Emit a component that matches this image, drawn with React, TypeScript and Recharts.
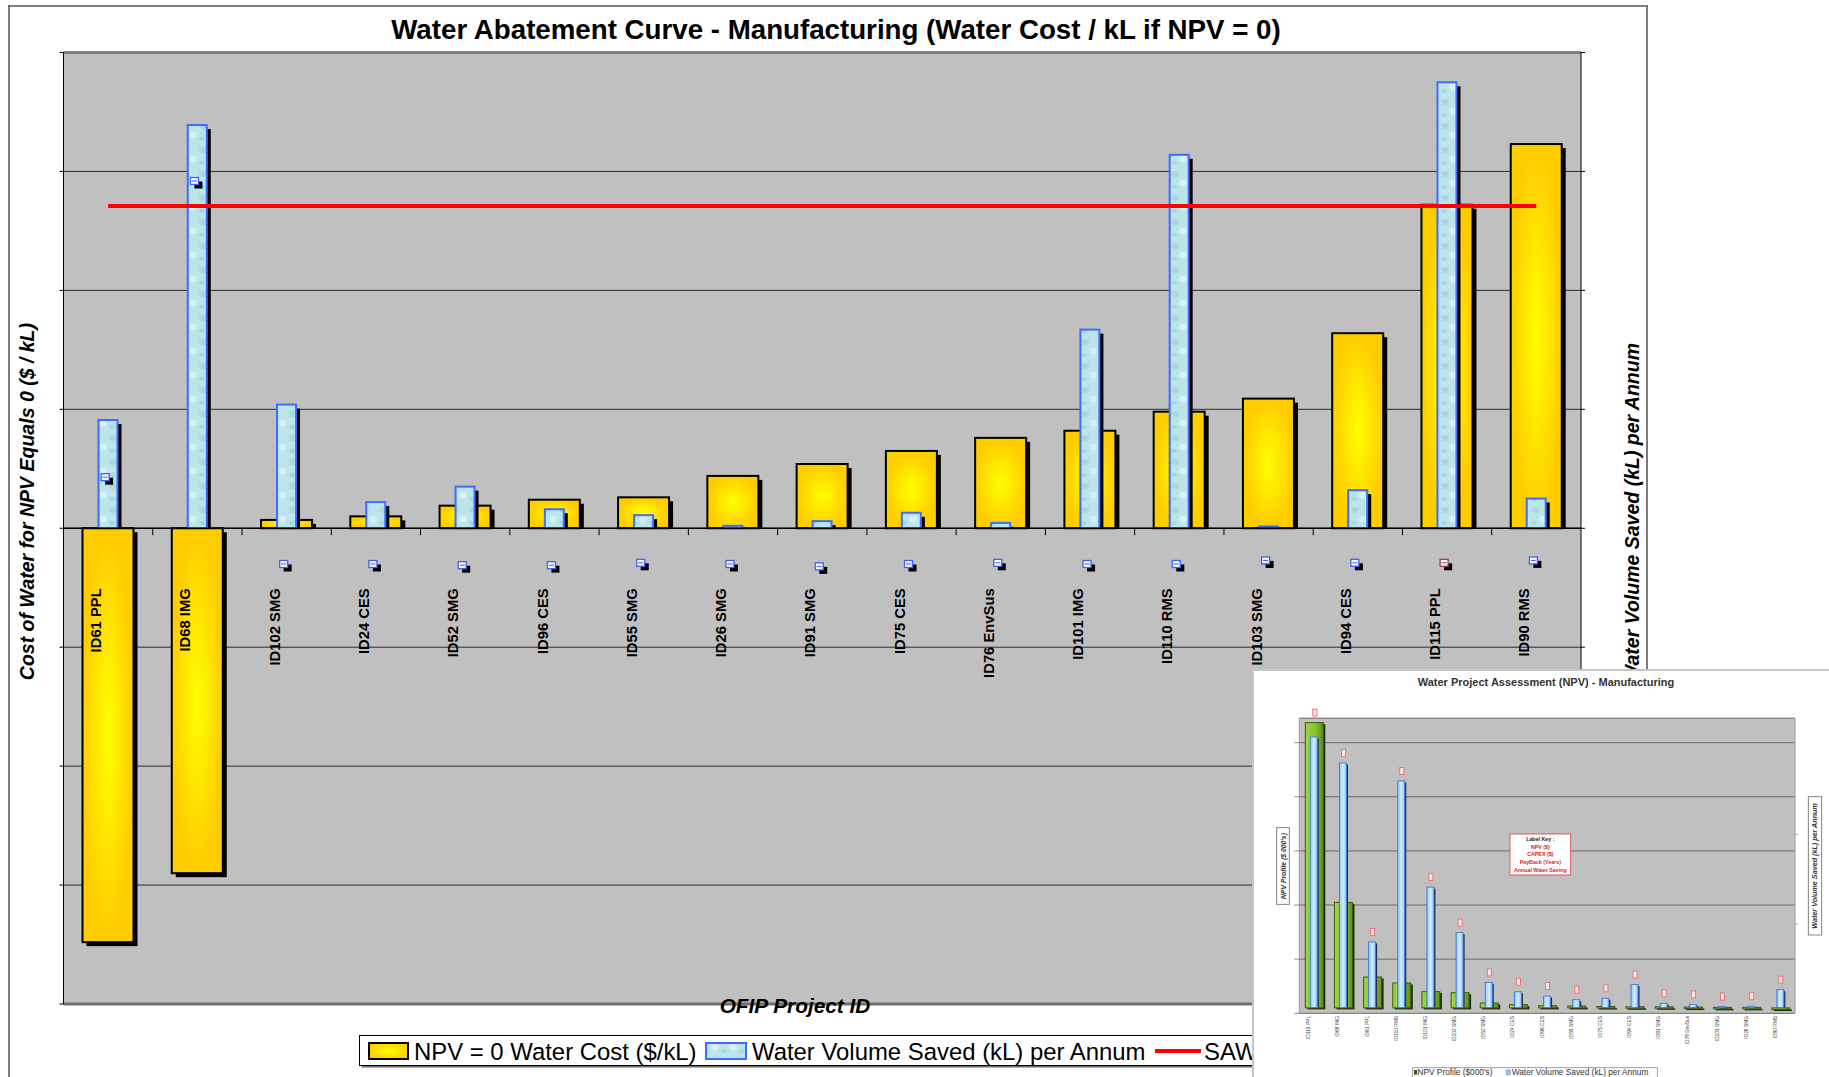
import React from 'react';
import { ComposedChart, Bar, Line, Scatter, XAxis, YAxis, CartesianGrid, ReferenceLine } from 'recharts';

const FONT = '"Liberation Sans", Arial, Helvetica, sans-serif';

// ---------- Main chart data ----------
const projectIds = [
  'ID61 PPL', 'ID68 IMG', 'ID102 SMG', 'ID24 CES', 'ID52 SMG', 'ID96 CES', 'ID55 SMG', 'ID26 SMG', 'ID91 SMG',
  'ID75 CES', 'ID76 EnvSus', 'ID101 IMG', 'ID110 RMS', 'ID103 SMG', 'ID94 CES', 'ID115 PPL', 'ID90 RMS',
];
const npvZeroWaterCost = [-3.48, -2.9, 0.07, 0.1, 0.19, 0.24, 0.26, 0.44, 0.54, 0.65, 0.76, 0.82, 0.98, 1.09, 1.64, 2.72, 3.23];
const waterVolumeSaved = [0.91, 3.39, 1.04, 0.22, 0.35, 0.16, 0.11, 0.02, 0.06, 0.13, 0.045, 1.67, 3.14, 0.015, 0.32, 3.75, 0.25];
const sawWaterPrice = 2.71;
const labelMarkerLevel = [0.4, 2.89, -0.33, -0.33, -0.34, -0.34, -0.32, -0.33, -0.35, -0.33, -0.32, -0.33, -0.33, -0.3, -0.32, -0.32, -0.3];
const leftTicks = [-4, -3, -2, -1, 0, 1, 2, 3, 4];

// ---------- Inset chart data ----------
const insetProjectIds = [
  'ID115 PPL', 'ID68 IMG', 'ID61 PPL', 'ID110 RMS', 'ID101 IMG', 'ID102 SMG', 'ID52 SMG', 'ID24 CES', 'ID96 CES',
  'ID55 SMG', 'ID75 CES', 'ID94 CES', 'ID91 SMG', 'ID76 EnvSus', 'ID103 SMG', 'ID26 SMG', 'ID90 RMS',
];
const insetNpvProfile = [5.27, 1.95, 0.57, 0.46, 0.3, 0.28, 0.09, 0.06, 0.04, 0.035, 0.025, 0.02, 0.02, 0.015, 0.01, 0.01, -0.03];
const insetWaterVolume = [3.75, 3.39, 0.91, 3.14, 1.67, 1.04, 0.35, 0.22, 0.16, 0.11, 0.13, 0.32, 0.06, 0.045, 0.015, 0.02, 0.25];
const insetLabelAbove = ['npv', 'vol', 'vol', 'vol', 'vol', 'vol', 'vol', 'vol', 'vol', 'vol', 'vol', 'vol', 'vol', 'vol', 'vol', 'vol', 'vol'];
const insetLeftTicks = [-0.1, 0.9, 1.9, 2.9, 3.9, 4.9];
const insetRightTicks = [1.16, 2.4];

const norm = (p: any) => {
  const top = Math.min(p.y, p.y + p.height);
  const h = Math.abs(p.height);
  return { top, h };
};

const GoldBar = (p: any) => {
  const { x, width } = p;
  const { top, h } = norm(p);
  const neg = (p.payload?.cost ?? 0) < 0;
  const sh = neg ? h : h - 4;
  return (
    <g>
      {sh > 0 && <rect x={x + 4} y={top + 4} width={width} height={sh} fill="#000" />}
      <rect x={x} y={top} width={width} height={h} fill="url(#goldFill)" stroke="#000" strokeWidth={2} />
    </g>
  );
};

const WaterBar = (p: any) => {
  const { x, width } = p;
  const { top, h } = norm(p);
  const sh = h - 4;
  return (
    <g>
      {sh > 0 && <rect x={x + 4} y={top + 4} width={width} height={sh} fill="#000" />}
      <rect x={x} y={top} width={width} height={Math.max(h, 1)} fill="url(#waterTex)" stroke="#3D6CFF" strokeWidth={2} />
    </g>
  );
};

const CategoryLabel = (p: any) => {
  const { x, y, width, index, payload } = p;
  const cx = x + width / 2;
  const tx = cx - 11.8;
  const ty = y + 60;
  return (
    <g>
      {index > 0 && <line x1={x} x2={x} y1={y} y2={y + 7} stroke="#000" strokeWidth={1} />}
      <text
        x={tx}
        y={ty}
        transform={`rotate(-90 ${tx} ${ty})`}
        textAnchor="end"
        dominantBaseline="central"
        fontFamily={FONT}
        fontWeight="bold"
        fontSize={14.8}
        fill="#000"
      >
        {payload?.name}
      </text>
    </g>
  );
};

const LabelMarker = (p: any) => {
  const { cx, cy, payload } = p;
  const tint = payload?.name === 'ID115 PPL' ? '#A0405E' : '#3F62F0';
  return (
    <g>
      <rect x={cx - 3} y={cy - 3} width={8} height={7} fill="#000" />
      <rect x={cx - 7} y={cy - 7} width={8} height={7} fill="#F4F7FF" stroke={tint} strokeWidth={1.3} />
      <line x1={cx - 5.5} x2={cx - 0.5} y1={cy - 3.5} y2={cy - 3.5} stroke={tint} strokeWidth={1} />
    </g>
  );
};

const InsetMark = ({ cx, top }: { cx: number; top: number }) => (
  <rect x={cx - 1.5} y={top - 13.5} width={4} height={7} fill="#FFE6E6" stroke="#EE6A6A" strokeWidth={0.9} />
);

const GreenBar = (p: any) => {
  const { x, width } = p;
  const { top, h } = norm(p);
  const hh = Math.max(h, 1.5);
  return (
    <g>
      <rect x={x + 2} y={top + 1.5} width={width} height={hh} fill="#1c2a08" />
      <rect x={x} y={top} width={width} height={hh} fill="url(#greenFill)" stroke="#3e5a12" strokeWidth={1} />
      {p.payload?.markOn === 'npv' && <InsetMark cx={x + width / 2} top={top} />}
    </g>
  );
};

const InsetBlueBar = (p: any) => {
  const { x, width } = p;
  const { top, h } = norm(p);
  const hh = Math.max(h, 1);
  return (
    <g>
      <rect x={x + 1.5} y={top + 1.5} width={width} height={Math.max(hh - 1.5, 0.5)} fill="#1b2a55" />
      <rect x={x} y={top} width={width} height={hh} fill="url(#insetBlue)" stroke="#3b79d6" strokeWidth={0.9} />
      {p.payload?.markOn === 'vol' && <InsetMark cx={x + width / 2} top={top} />}
    </g>
  );
};

const InsetLabel = (p: any) => {
  const { x, y, width, payload } = p;
  const tx = x + width / 2 - 5;
  const ty = y + 8;
  return (
    <text
      x={tx}
      y={ty}
      transform={`rotate(-90 ${tx} ${ty})`}
      textAnchor="end"
      dominantBaseline="central"
      fontFamily={FONT}
      fontSize={4.9}
      fill="#3a3a3a"
    >
      {payload?.name}
    </text>
  );
};

const blank = () => '';

export default function App() {
  const mainData = projectIds.map((name, i) => ({
    name,
    cost: npvZeroWaterCost[i],
    volume: waterVolumeSaved[i],
    saw: sawWaterPrice,
    marker: labelMarkerLevel[i],
    base: 0,
  }));
  const insetData = insetProjectIds.map((name, i) => ({
    name,
    npv: insetNpvProfile[i],
    vol: insetWaterVolume[i],
    markOn: insetLabelAbove[i],
    base: 0,
  }));

  return (
    <div style={{ position: 'absolute', left: 0, top: 0, width: 1829, height: 1077, overflow: 'hidden', background: '#fff', fontFamily: FONT }}>
      {/* frame + shared defs */}
      <svg width={1829} height={1077} style={{ position: 'absolute', left: 0, top: 0 }}>
        <defs>
          <radialGradient id="goldFill" cx="50%" cy="50%" r="50%">
            <stop offset="0%" stopColor="#FFFF00" />
            <stop offset="100%" stopColor="#FFCC00" />
          </radialGradient>
          <radialGradient id="goldLegend" cx="50%" cy="50%" r="55%">
            <stop offset="0%" stopColor="#FFFF00" />
            <stop offset="100%" stopColor="#FFCC00" />
          </radialGradient>
          <pattern id="waterTex" patternUnits="userSpaceOnUse" width="18" height="24">
            <rect width="18" height="24" fill="#BCE4EB" />
            <ellipse cx="5" cy="6" rx="4" ry="3" fill="#A6D3DD" opacity="0.8" />
            <ellipse cx="13" cy="15" rx="4" ry="3.5" fill="#D6F1F5" />
            <ellipse cx="4" cy="19" rx="3" ry="2" fill="#9FCDD8" opacity="0.6" />
          </pattern>
          <linearGradient id="greenFill" x1="0" y1="0" x2="1" y2="0">
            <stop offset="0%" stopColor="#A2D445" />
            <stop offset="55%" stopColor="#86C232" />
            <stop offset="100%" stopColor="#5E8E18" />
          </linearGradient>
          <linearGradient id="insetBlue" x1="0" y1="0" x2="1" y2="0">
            <stop offset="0%" stopColor="#8EC5F0" />
            <stop offset="50%" stopColor="#D3EDFC" />
            <stop offset="100%" stopColor="#8EC5F0" />
          </linearGradient>
        </defs>
        <line x1={9} x2={1647} y1={6} y2={6} stroke="#808080" strokeWidth={2} />
        <line x1={9} x2={9} y1={5} y2={1077} stroke="#222" strokeWidth={1.2} />
        <line x1={1647} x2={1647} y1={5} y2={1077} stroke="#7a7a7a" strokeWidth={2} />
      </svg>

      <div style={{ position: 'absolute', left: 0, top: 0 }}>
        <ComposedChart
          width={1829}
          height={1077}
          data={mainData}
          margin={{ top: 52.5, right: 244, bottom: 73, left: 59.5 }}
          barCategoryGap={0}
          barGap={0}
        >
          <CartesianGrid xAxisId="main" yAxisId="left" vertical={false} stroke="#2b2b2b" strokeWidth={1} fill="#C0C0C0" fillOpacity={1} />
          <XAxis xAxisId="main" dataKey="name" hide />
          <XAxis xAxisId="vol" dataKey="name" hide />
          <XAxis xAxisId="lab" dataKey="name" hide />
          <YAxis
            yAxisId="left"
            domain={[-4, 4]}
            ticks={leftTicks}
            width={4}
            tickSize={4}
            tickFormatter={blank}
            axisLine={{ stroke: '#000' }}
            tickLine={{ stroke: '#000' }}
          />
          <YAxis
            yAxisId="right"
            orientation="right"
            domain={[-4, 4]}
            ticks={leftTicks}
            width={4}
            tickSize={4}
            tickFormatter={blank}
            axisLine={{ stroke: '#000' }}
            tickLine={{ stroke: '#000' }}
          />
          <ReferenceLine xAxisId="main" yAxisId="left" y={0} stroke="#000" strokeWidth={1.5} />
          <Bar xAxisId="main" yAxisId="left" dataKey="cost" barSize={51} shape={GoldBar} isAnimationActive={false} />
          <Bar xAxisId="vol" yAxisId="right" dataKey="volume" barSize={19} shape={WaterBar} isAnimationActive={false} />
          <Bar xAxisId="lab" yAxisId="left" dataKey="base" shape={CategoryLabel} isAnimationActive={false} />
          <Line xAxisId="main" yAxisId="left" dataKey="saw" stroke="#FF0000" strokeWidth={4} dot={false} activeDot={false} isAnimationActive={false} />
          <Scatter xAxisId="main" yAxisId="left" dataKey="marker" shape={LabelMarker} isAnimationActive={false} />
          <ReferenceLine xAxisId="main" yAxisId="left" y={4} stroke="#7f7f7f" strokeWidth={3} />
          <ReferenceLine xAxisId="main" yAxisId="left" y={-4} stroke="#6f6f6f" strokeWidth={3} />
        </ComposedChart>
      </div>

      {/* main titles & legend */}
      <svg width={1829} height={1077} style={{ position: 'absolute', left: 0, top: 0, pointerEvents: 'none' }}>
        <text x={836} y={29.5} textAnchor="middle" dominantBaseline="central" fontFamily={FONT} fontWeight="bold" fontSize={27.7} fill="#000">
          Water Abatement Curve - Manufacturing (Water Cost / kL if NPV = 0)
        </text>
        <text x={27} y={323} transform="rotate(-90 27 323)" textAnchor="end" dominantBaseline="central" fontFamily={FONT} fontWeight="bold" fontStyle="italic" fontSize={19.5} fill="#000">
          Cost of Water for NPV Equals 0 ($ / kL)
        </text>
        <text x={1632} y={343} transform="rotate(-90 1632 343)" textAnchor="end" dominantBaseline="central" fontFamily={FONT} fontWeight="bold" fontStyle="italic" fontSize={19.5} fill="#000">
          Water Volume Saved (kL) per Annum
        </text>
        <text x={795} y={1005} textAnchor="middle" dominantBaseline="central" fontFamily={FONT} fontWeight="bold" fontStyle="italic" fontSize={20.8} fill="#000">
          OFIP Project ID
        </text>
        <rect x={361.5} y={1037.5} width={960} height={30} fill="#6a6a6a" />
        <rect x={359.5} y={1035.5} width={960} height={30} fill="#fff" stroke="#000" strokeWidth={1} />
        <rect x={369} y={1043} width={39} height={16} fill="url(#goldLegend)" stroke="#000" strokeWidth={2} />
        <text x={414} y={1051} dominantBaseline="central" fontFamily={FONT} fontSize={23.9} fill="#000">NPV = 0 Water Cost ($/kL)</text>
        <rect x={706} y={1043} width={40} height={16} fill="url(#waterTex)" stroke="#3D6CFF" strokeWidth={2} />
        <text x={752} y={1051} dominantBaseline="central" fontFamily={FONT} fontSize={23.9} fill="#000">Water Volume Saved (kL) per Annum</text>
        <line x1={1155} x2={1201} y1={1051} y2={1051} stroke="#FF0000" strokeWidth={4} />
        <text x={1204} y={1051} dominantBaseline="central" fontFamily={FONT} fontSize={23.9} fill="#000">SAW</text>
      </svg>

      {/* inset chart */}
      <div
        style={{
          position: 'absolute',
          left: 1252,
          top: 669,
          width: 575,
          height: 406,
          background: '#fff',
          borderLeft: '2px solid #C6C6C6',
          borderTop: '2px solid #C6C6C6',
        }}
      >
        <div style={{ position: 'absolute', left: 0, top: 0 }}>
          <ComposedChart
            width={575}
            height={406}
            data={insetData}
            margin={{ top: 47.3, right: 30, bottom: 63.7, left: 41.3 }}
            barCategoryGap={0}
            barGap={0}
          >
            <CartesianGrid xAxisId="m" yAxisId="l" vertical={false} stroke="#6b6b6b" strokeWidth={1} fill="#C0C0C0" fillOpacity={1} />
            <XAxis xAxisId="m" dataKey="name" hide />
            <XAxis xAxisId="b" dataKey="name" hide />
            <XAxis xAxisId="lab" dataKey="name" hide />
            <YAxis
              yAxisId="l"
              domain={[-0.1, 5.35]}
              ticks={insetLeftTicks}
              width={4}
              tickSize={5}
              tickFormatter={blank}
              axisLine={{ stroke: '#9a9a9a' }}
              tickLine={{ stroke: '#8a8a8a' }}
            />
            <YAxis
              yAxisId="r"
              orientation="right"
              domain={[-0.078, 4.008]}
              allowDataOverflow
              ticks={insetRightTicks}
              width={4}
              tickSize={3}
              tickFormatter={blank}
              axisLine={{ stroke: '#9a9a9a' }}
              tickLine={{ stroke: '#aaaaaa' }}
            />
            <ReferenceLine xAxisId="m" yAxisId="l" y={5.35} stroke="#8a8a8a" strokeWidth={1.2} />
            <Bar xAxisId="m" yAxisId="l" dataKey="npv" barSize={18} shape={GreenBar} isAnimationActive={false} />
            <Bar xAxisId="b" yAxisId="r" dataKey="vol" barSize={7} shape={InsetBlueBar} isAnimationActive={false} />
            <Bar xAxisId="lab" yAxisId="l" dataKey="base" shape={InsetLabel} isAnimationActive={false} />
          </ComposedChart>
        </div>
        <svg width={575} height={406} style={{ position: 'absolute', left: 0, top: 0, pointerEvents: 'none' }}>
          <text x={292} y={10.7} textAnchor="middle" dominantBaseline="central" fontFamily={FONT} fontWeight="bold" fontSize={11} fill="#333">
            Water Project Assessment (NPV) - Manufacturing
          </text>
          <rect x={22.7} y={156.7} width={12.6} height={76.6} fill="#fff" stroke="#666" strokeWidth={0.8} />
          <text x={29} y={195} transform="rotate(-90 29 195)" textAnchor="middle" dominantBaseline="central" fontFamily={FONT} fontWeight="bold" fontStyle="italic" fontSize={6.8} fill="#333">
            NPV Profile ($ 000's)
          </text>
          <rect x={554.3} y={125.7} width={13.4} height={138.3} fill="#fff" stroke="#666" strokeWidth={0.8} />
          <text x={561} y={194.9} transform="rotate(-90 561 194.9)" textAnchor="middle" dominantBaseline="central" fontFamily={FONT} fontWeight="bold" fontStyle="italic" fontSize={7.2} fill="#333">
            Water Volume Saved (kL) per Annum
          </text>
          <rect x={256} y={163} width={60.7} height={41} fill="#fff" stroke="#E04848" strokeWidth={0.9} />
          <text x={286.3} y={168} textAnchor="middle" dominantBaseline="central" fontFamily={FONT} fontWeight="bold" fontSize={5.3} fill="#222">Label Key :</text>
          <text x={286.3} y={175.7} textAnchor="middle" dominantBaseline="central" fontFamily={FONT} fontWeight="bold" fontSize={5.3} fill="#E02020">NPV ($)</text>
          <text x={286.3} y={183.3} textAnchor="middle" dominantBaseline="central" fontFamily={FONT} fontWeight="bold" fontSize={5.3} fill="#E02020">CAPEX ($)</text>
          <text x={286.3} y={191.3} textAnchor="middle" dominantBaseline="central" fontFamily={FONT} fontWeight="bold" fontSize={5.3} fill="#E02020">PayBack (Years)</text>
          <text x={286.3} y={199} textAnchor="middle" dominantBaseline="central" fontFamily={FONT} fontWeight="bold" fontSize={5.3} fill="#E02020">Annual Water Saving</text>
          <rect x={158.7} y={396.7} width={244.6} height={14} fill="#fff" stroke="#8a8a8a" strokeWidth={0.8} />
          <rect x={160} y={399} width={3.2} height={4.6} fill="#3e5a12" />
          <text x={163.5} y={401.3} dominantBaseline="central" fontFamily={FONT} fontSize={8.3} fill="#333">NPV Profile ($000's)</text>
          <rect x={252.7} y={399} width={3.4} height={4.6} fill="#9ccdf2" stroke="#3b79d6" strokeWidth={0.6} />
          <text x={257.7} y={401.3} dominantBaseline="central" fontFamily={FONT} fontSize={8.3} fill="#333">Water Volume Saved (kL) per Annum</text>
        </svg>
      </div>
    </div>
  );
}
